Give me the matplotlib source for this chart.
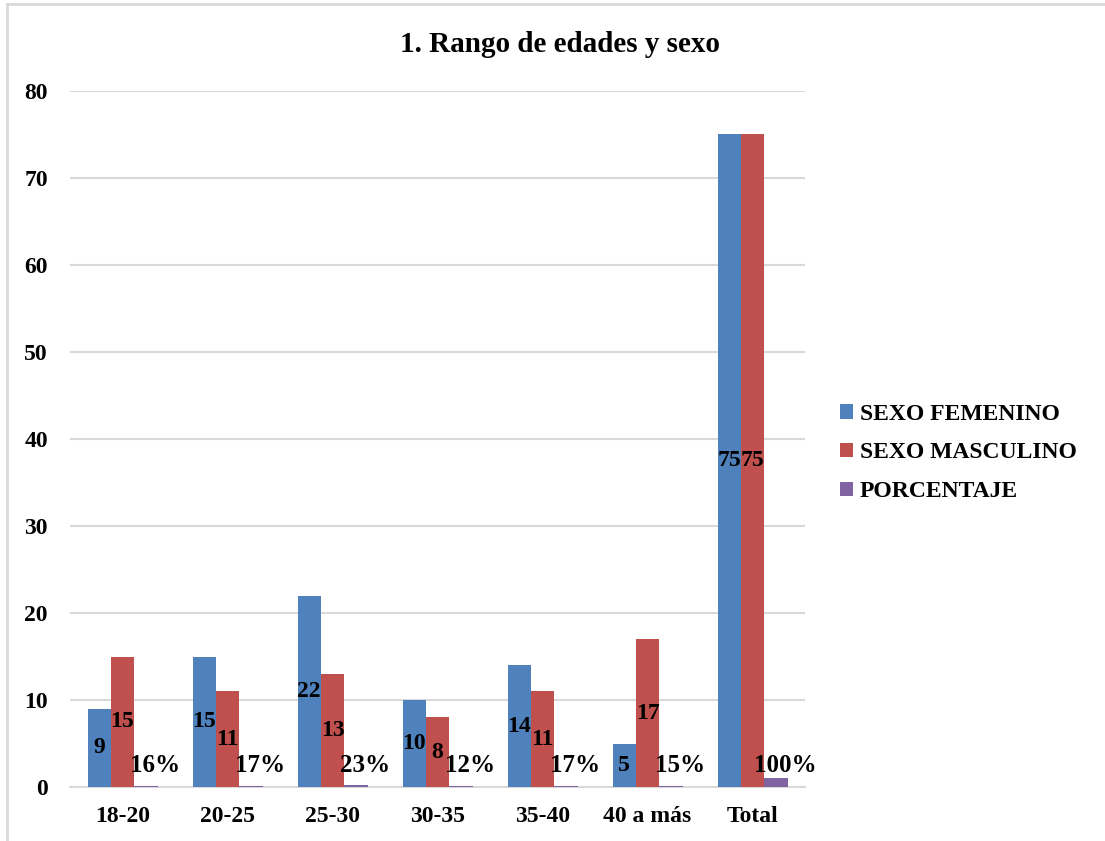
import matplotlib
matplotlib.use("Agg")
import matplotlib.pyplot as plt
import numpy as np
from matplotlib.lines import Line2D

plt.rcParams['font.family'] = ['Liberation Serif', 'DejaVu Serif']
plt.rcParams['font.weight'] = 'bold'

categories = ["18-20", "20-25", "25-30", "30-35", "35-40", "40 a más", "Total"]
femenino = [9, 15, 22, 10, 14, 5, 75]
masculino = [15, 11, 13, 8, 11, 17, 75]
porcentaje = [0.16, 0.17, 0.23, 0.12, 0.17, 0.15, 1.00]
series_names = ["SEXO FEMENINO", "SEXO MASCULINO", "PORCENTAJE"]
colors = ["#4F81BD", "#C0504D", "#8064A2"]
yticks = [0, 10, 20, 30, 40, 50, 60, 70, 80]

W, H = 1105, 841
fig = plt.figure(figsize=(W / 100, H / 100), dpi=100)
ax = fig.add_axes([70 / W, 1 - 787 / H, (805 - 70) / W, (787 - 91) / H])

x = np.arange(len(categories))
bw = 1 / 4.5
bars_f = ax.bar(x - bw, femenino, bw, color=colors[0], label=series_names[0], zorder=3)
bars_m = ax.bar(x, masculino, bw, color=colors[1], label=series_names[1], zorder=3)
bars_p = ax.bar(x + bw, porcentaje, bw, color=colors[2], label=series_names[2], zorder=3)

lab_fs = 17
for bars, vals in ((bars_f, femenino), (bars_m, masculino)):
    for b, v in zip(bars, vals):
        ax.text(b.get_x() + b.get_width() / 2, v / 2, f"{v}", ha='center', va='center',
                fontsize=lab_fs, fontweight='bold', zorder=4)
# percentage labels sit just above the axis, nudged right of their thin bars
for b, v in zip(bars_p, porcentaje):
    ax.annotate(f"{v:.0%}", xy=(b.get_x() + b.get_width() / 2, 0), xytext=(7, 11),
                textcoords='offset points', ha='center', va='baseline',
                fontsize=18, fontweight='bold', zorder=4)

ax.set_xlim(-0.5, len(categories) - 0.5)
ax.set_ylim(0, 80)
ax.set_yticks(yticks)
ax.set_xticks(x)
ax.set_xticklabels(categories)
ax.tick_params(axis='both', length=0, labelsize=17)
ax.tick_params(axis='y', pad=16)
ax.tick_params(axis='x', pad=14)
for lbl in ax.get_xticklabels() + ax.get_yticklabels():
    lbl.set_fontweight('bold')
ax.grid(axis='y', color='#D9D9D9', linewidth=1.5, zorder=0)
for s in ('left', 'right', 'top'):
    ax.spines[s].set_visible(False)
ax.spines['bottom'].set_color('#D9D9D9')
ax.spines['bottom'].set_linewidth(1.5)

fig.text(560 / W, 1 - 45 / H, "1. Rango de edades y sexo", ha='center', va='center',
         fontsize=21, fontweight='bold')

fig.legend(loc='center left', bbox_to_anchor=(840 / W, 1 - 453 / H), frameon=False,
           prop={'size': 17, 'weight': 'bold'}, handlelength=0.55, handleheight=0.55,
           handletextpad=0.3, labelspacing=0.75, borderpad=0, borderaxespad=0)

# chart frame
fig.add_artist(Line2D([7 / W, 1], [1 - 4 / H, 1 - 4 / H], transform=fig.transFigure,
                      color='#D9D9D9', linewidth=2))
fig.add_artist(Line2D([7 / W, 7 / W], [0, 1 - 4 / H], transform=fig.transFigure,
                      color='#D9D9D9', linewidth=2))

fig.savefig("out.png", dpi=100)
